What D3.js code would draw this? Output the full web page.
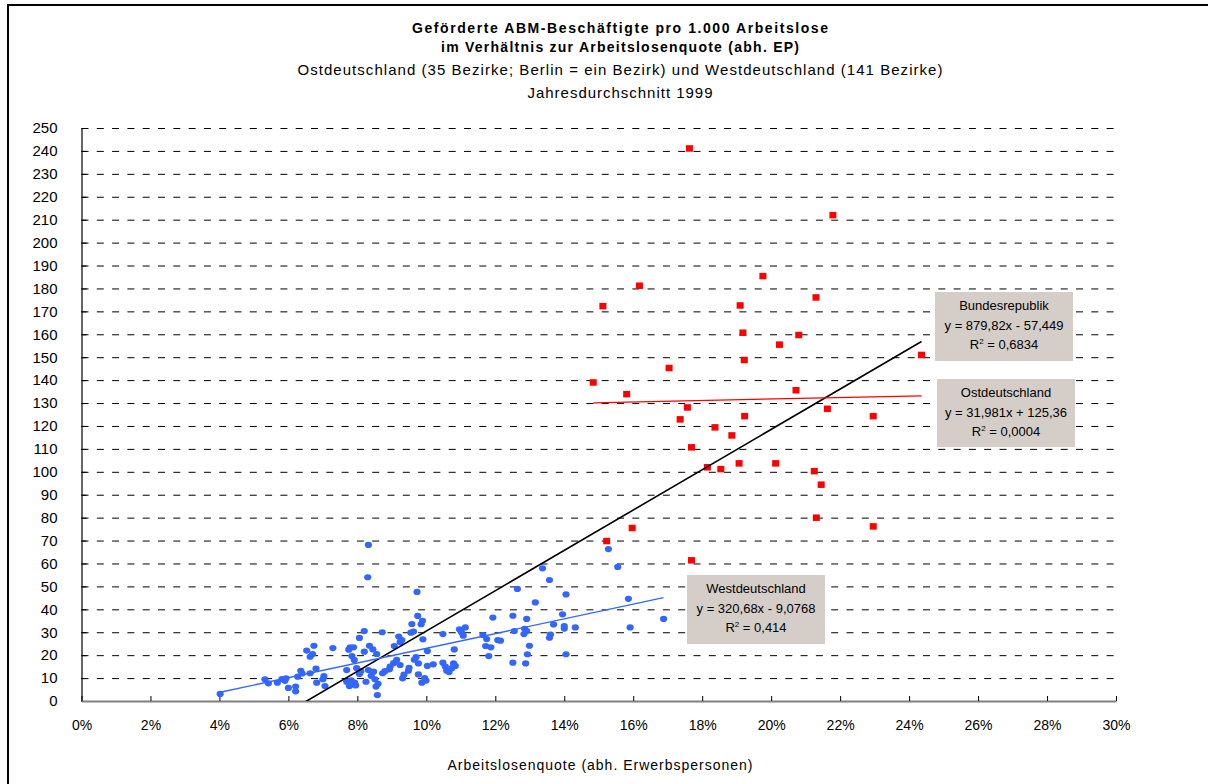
<!DOCTYPE html>
<html>
<head>
<meta charset="utf-8">
<script src="https://cdn.jsdelivr.net/npm/d3@7"></script>
<style>
  body { margin: 0; background: #fff; }
  svg { display: block; }
  text { font-family: "Liberation Sans", Arial, sans-serif; fill: #000; }
</style>
</head>
<body>
<svg id="chart" width="1208" height="784"></svg>
<script>
// Arbeitslosenquote (share) and ABM-Beschäftigte pro 1.000 Arbeitslose, West districts
const westRate = [
  0.0402, 0.0532, 0.0542, 0.0568, 0.0581, 0.0593, 0.0600, 0.0621, 0.0621, 0.0627,
  0.0636, 0.0663, 0.0680, 0.0653, 0.0663, 0.0674, 0.0682, 0.0703, 0.0706, 0.0729,
  0.0779, 0.0789, 0.0806, 0.0820, 0.0820, 0.0835, 0.0784, 0.0791, 0.0769, 0.0798,
  0.0806, 0.0769, 0.0777, 0.0792, 0.0825, 0.0832, 0.0847, 0.0851, 0.0854, 0.0858,
  0.0873, 0.0856, 0.0872, 0.0895, 0.0907, 0.0920, 0.0924, 0.0914, 0.0924, 0.0931,
  0.0948, 0.0958, 0.0955, 0.0970, 0.0975, 0.0989, 0.0977, 0.0977, 0.0987, 0.0999,
  0.0990, 0.1003, 0.1003, 0.1048, 0.1048, 0.1059, 0.1081, 0.1079, 0.1084, 0.1096,
  0.1113, 0.1107, 0.1164, 0.1172, 0.1187, 0.1181, 0.1193, 0.1207, 0.0830, 0.0832,
  0.0973, 0.1255, 0.1251, 0.1264, 0.1291, 0.1291, 0.1283, 0.1299, 0.1293, 0.1288,
  0.1251, 0.1316, 0.1337, 0.1357, 0.1357, 0.1369, 0.1395, 0.1400, 0.1400, 0.1405,
  0.1405, 0.1432, 0.1528, 0.1555, 0.1586, 0.1591, 0.1688, 0.1066, 0.1074, 0.0929,
  0.0963, 0.1215, 0.0893, 0.0670, 0.0700, 0.0775, 0.0795, 0.0810, 0.0840, 0.0860,
  0.0880, 0.0905, 0.0935, 0.0950, 0.0965, 0.0995, 0.1020, 0.1055, 0.1102, 0.1175,
  0.1285, 0.1360, 0.0845, 0.0985, 0.0640, 0.0590, 0.0782
];
const westAbm = [
   3.1,  9.5,  7.7,  8.0,  9.6,  9.9,  5.7,  6.3,  4.2, 10.6,
  13.2, 12.1, 14.1, 22.0, 19.3, 24.1,  8.0, 10.9,  6.5, 23.1,
  23.4, 23.4, 27.5, 30.5, 21.5, 24.1, 19.6, 17.9, 13.5, 14.3,
  11.8,  8.4,  6.5,  8.0,  8.4, 13.5, 12.8,  9.5,  6.3,  2.6,
  12.1, 20.5, 30.0, 15.0, 24.0, 28.1, 25.7, 17.9, 15.7,  9.9,
  13.2, 33.6, 29.8, 19.1, 37.1, 35.0, 16.4, 11.6,  8.0,  8.9,
  26.9, 21.8, 15.3, 29.2, 16.7, 13.2, 22.5, 16.4, 15.3, 31.3,
  32.1, 28.5, 28.8, 24.0, 23.4, 19.6, 36.4, 26.6, 54.0, 68.1,
  47.6, 30.5, 37.2, 48.9, 35.8, 30.5, 29.2, 24.1, 20.4, 16.4,
  16.7, 43.0, 57.9, 52.8, 27.6, 33.4, 37.8, 32.7, 31.6, 46.5,
  20.4, 32.1, 66.3, 58.5, 44.6, 32.1, 35.8, 12.6, 14.3, 26.6,
  30.3, 26.3, 13.8, 20.5,  9.5, 22.4,  6.8, 13.0, 11.0,  7.5,
  13.0, 16.5, 11.5, 14.5, 18.0, 10.0, 16.0, 15.0, 30.0, 27.0,
  31.5, 29.0, 22.5, 33.5, 12.0,  8.8,  9.0
];

// East districts (Berlin counted as one district)
const eastRate = [
  0.1763, 0.2179, 0.1976, 0.1618, 0.1512, 0.2130, 0.1910, 0.1918, 0.2080, 0.2024,
  0.1922, 0.1704, 0.1484, 0.2436, 0.1581, 0.2072, 0.1757, 0.2163, 0.2296, 0.1923,
  0.1736, 0.1837, 0.1886, 0.1769, 0.1815, 0.1854, 0.1907, 0.2013, 0.2125, 0.2145,
  0.2131, 0.2296, 0.1597, 0.1523, 0.1769
];
const eastAbm = [
  241.1, 212.0, 185.4, 181.2, 172.3, 176.1, 172.6, 160.7, 159.7, 155.5,
  148.8, 145.3, 139.0, 151.0, 133.9, 135.6, 128.1, 127.5, 124.3, 124.3,
  122.9, 119.4, 115.9, 110.7, 102.0, 101.2, 103.7, 103.7, 100.3,  94.4,
   80.0,  76.2,  75.5,  69.8,  61.4
];

// Linear trends: Bundesrepublik, Ostdeutschland, Westdeutschland
const trendNames = ["Bundesrepublik", "Ostdeutschland", "Westdeutschland"];
const trendSlopes = [879.82, 31.981, 320.68];
const trendIntercepts = [-57.449, 125.36, -9.0768];
const trendR2 = [0.6834, 0.0004, 0.414];
const trendColors = ["#000000", "#ff0000", "#3366ff"];

// Axis ticks
const xTickValues = [0, 0.02, 0.04, 0.06, 0.08, 0.10, 0.12, 0.14, 0.16, 0.18, 0.20, 0.22, 0.24, 0.26, 0.28, 0.30];
const yTickValues = [0, 10, 20, 30, 40, 50, 60, 70, 80, 90, 100, 110, 120, 130, 140, 150, 160, 170, 180, 190, 200, 210, 220, 230, 240, 250];

const titleLines = [
  "Geförderte ABM-Beschäftigte pro 1.000 Arbeitslose",
  "im Verhältnis zur Arbeitslosenquote (abh. EP)",
  "Ostdeutschland (35 Bezirke; Berlin = ein Bezirk) und Westdeutschland (141 Bezirke)",
  "Jahresdurchschnitt 1999"
];
const xAxisTitle = "Arbeitslosenquote (abh. Erwerbspersonen)";

const svg = d3.select("#chart");

// outer chart frame
svg.append("rect")
  .attr("x", 8).attr("y", 5).attr("width", 1230).attr("height", 800)
  .attr("fill", "#fff").attr("stroke", "#000").attr("stroke-width", 2);

const plot = { left: 81.5, right: 1116, top: 128, bottom: 701 };
const x = d3.scaleLinear().domain([0, 0.30]).range([plot.left, plot.right]);
const y = d3.scaleLinear().domain([0, 250]).range([plot.bottom, plot.top]);

// title block
const titleStyle = [
  { size: 14, weight: "bold", base: 33, len: 416 },
  { size: 14, weight: "bold", base: 52, len: 358 },
  { size: 15, weight: "normal", base: 75, len: 645 },
  { size: 15, weight: "normal", base: 98, len: 185 }
];
svg.append("g").selectAll("text").data(titleLines).join("text")
  .attr("x", 620)
  .attr("y", (d, i) => titleStyle[i].base)
  .attr("text-anchor", "middle")
  .attr("font-size", (d, i) => titleStyle[i].size)
  .attr("font-weight", (d, i) => titleStyle[i].weight)
  .attr("textLength", (d, i) => titleStyle[i].len)
  .attr("lengthAdjust", "spacing")
  .text(d => d);

// dashed horizontal gridlines
const grid = svg.append("g")
  .attr("transform", `translate(${plot.left},0)`)
  .call(d3.axisRight(y).tickValues(yTickValues.filter(v => v > 0))
    .tickSize(plot.right - plot.left).tickFormat(""));
grid.select(".domain").remove();
grid.selectAll("line")
  .attr("stroke", "#000").attr("stroke-width", 1)
  .attr("stroke-dasharray", "7,8.3");

// y axis
const yAxis = svg.append("g")
  .attr("transform", `translate(${plot.left},0)`)
  .call(d3.axisLeft(y).tickValues(yTickValues).tickSizeInner(-5).tickSizeOuter(0).tickPadding(24));
yAxis.select(".domain").attr("stroke", "#000").attr("stroke-width", 1.2);
yAxis.selectAll("line").attr("stroke", "#000");
yAxis.selectAll("text").attr("font-size", 15).attr("font-family", "Liberation Sans, Arial, sans-serif");

// x axis
const xAxis = svg.append("g")
  .attr("transform", `translate(0,${plot.bottom})`)
  .call(d3.axisBottom(x).tickValues(xTickValues).tickFormat(d3.format(".0%"))
    .tickSizeInner(-5).tickSizeOuter(0).tickPadding(19));
xAxis.select(".domain").attr("stroke", "#808080").attr("stroke-width", 2);
xAxis.selectAll("line").attr("stroke", "#000");
xAxis.selectAll("text").attr("font-size", 14).attr("font-family", "Liberation Sans, Arial, sans-serif");

svg.append("text")
  .attr("x", 600).attr("y", 770)
  .attr("text-anchor", "middle").attr("font-size", 14)
  .attr("textLength", 305).attr("lengthAdjust", "spacing")
  .text(xAxisTitle);

// clip for trend lines
svg.append("clipPath").attr("id", "plotClip")
  .append("rect")
  .attr("x", plot.left).attr("y", plot.top)
  .attr("width", plot.right - plot.left).attr("height", plot.bottom - plot.top);

// markers
const west = westRate.map((r, i) => ({ r, v: westAbm[i] }));
const east = eastRate.map((r, i) => ({ r, v: eastAbm[i] }));

svg.append("g").selectAll("ellipse").data(west).join("ellipse")
  .attr("cx", d => x(d.r)).attr("cy", d => y(d.v))
  .attr("rx", 3.6).attr("ry", 3.1)
  .attr("fill", "#3366ff");

svg.append("g").selectAll("rect").data(east).join("rect")
  .attr("x", d => x(d.r) - 3.5).attr("y", d => y(d.v) - 3.2)
  .attr("width", 7).attr("height", 6.5)
  .attr("fill", "#ff0000");

// trend lines, each spanning its own data range
const allRate = westRate.concat(eastRate);
const ranges = [d3.extent(allRate), d3.extent(eastRate), d3.extent(westRate)];
const trendLine = d3.line().x(d => x(d[0])).y(d => y(d[1]));
const trendWidths = [1.6, 1.3, 1.3];
svg.append("g").attr("clip-path", "url(#plotClip)")
  .selectAll("path").data(trendNames).join("path")
  .attr("d", (d, i) => {
    const [a, b] = ranges[i];
    return trendLine([a, b].map(r => [r, trendSlopes[i] * r + trendIntercepts[i]]));
  })
  .attr("fill", "none")
  .attr("stroke", (d, i) => trendColors[i])
  .attr("stroke-width", (d, i) => trendWidths[i]);

// equation boxes
const de = v => String(v).replace(".", ",");
const boxes = [
  { x: 935, y: 292, w: 138, h: 69 },
  { x: 937, y: 379, w: 138, h: 68 },
  { x: 687, y: 575, w: 138, h: 69 }
];
const boxG = svg.append("g").selectAll("g").data(trendNames).join("g")
  .attr("transform", (d, i) => `translate(${boxes[i].x},${boxes[i].y})`);
boxG.append("rect")
  .attr("width", (d, i) => boxes[i].w).attr("height", (d, i) => boxes[i].h)
  .attr("fill", "#d5cec8");
boxG.each(function (name, i) {
  const g = d3.select(this);
  const b = trendIntercepts[i];
  const eq = `y = ${de(trendSlopes[i])}x ${b < 0 ? "-" : "+"} ${de(Math.abs(b))}`;
  const lines = [name, eq, null];
  const cx = boxes[i].w / 2;
  g.append("text").attr("x", cx).attr("y", 18).attr("text-anchor", "middle")
    .attr("font-size", 13).text(name);
  g.append("text").attr("x", cx).attr("y", 38).attr("text-anchor", "middle")
    .attr("font-size", 13).text(eq);
  const r = g.append("text").attr("x", cx).attr("y", 57).attr("text-anchor", "middle")
    .attr("font-size", 13);
  r.append("tspan").text("R");
  r.append("tspan").attr("font-size", 8).attr("dy", -5).text("2");
  r.append("tspan").attr("dy", 5).text(` = ${de(trendR2[i])}`);
});
</script>
</body>
</html>
